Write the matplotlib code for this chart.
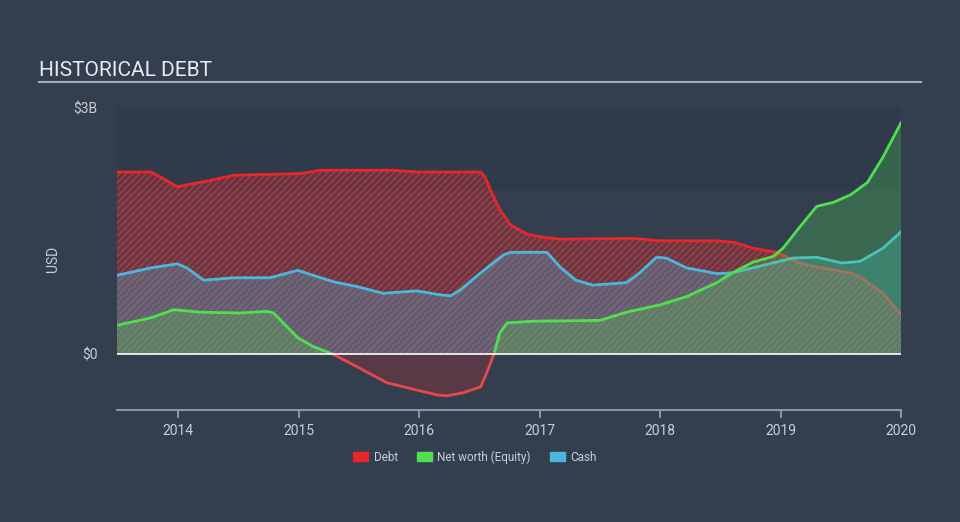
import numpy as np
import matplotlib
matplotlib.use('Agg')
import matplotlib.pyplot as plt
from matplotlib.patches import Patch

plt.rcParams['font.family'] = ['Roboto', 'DejaVu Sans']
plt.rcParams['hatch.linewidth'] = 1.0

# values in $B, time in decimal years
debt_t = [2013.49, 2013.77, 2013.85, 2013.99, 2014.24, 2014.46, 2015.01, 2015.18, 2015.78, 2015.98,
          2016.51, 2016.55, 2016.59, 2016.67, 2016.76, 2016.90, 2017.0, 2017.17, 2017.78,
          2018.0, 2018.47, 2018.62, 2018.77, 2018.97, 2019.16, 2019.30, 2019.58, 2019.66,
          2019.85, 2020.0]
debt_v = [2.22, 2.22, 2.16, 2.04, 2.11, 2.18, 2.20, 2.24, 2.24, 2.22,
          2.22, 2.15, 2.00, 1.76, 1.57, 1.46, 1.43, 1.40, 1.41,
          1.38, 1.38, 1.36, 1.29, 1.24, 1.11, 1.06, 0.99, 0.94,
          0.74, 0.48]

cash_t = [2013.49, 2013.77, 2013.99, 2014.07, 2014.21, 2014.46, 2014.76, 2014.99, 2015.29,
          2015.49, 2015.70, 2015.98, 2016.18, 2016.26, 2016.34, 2016.51, 2016.70, 2016.76,
          2017.06, 2017.17, 2017.30, 2017.44, 2017.72, 2017.83, 2017.97, 2018.05, 2018.22,
          2018.47, 2018.60, 2018.88, 2019.10, 2019.30, 2019.51, 2019.66, 2019.85, 2020.0]
cash_v = [0.96, 1.05, 1.10, 1.05, 0.90, 0.93, 0.93, 1.02, 0.88,
          0.82, 0.74, 0.77, 0.72, 0.71, 0.78, 0.99, 1.21, 1.24,
          1.24, 1.06, 0.90, 0.84, 0.87, 0.99, 1.18, 1.17, 1.05,
          0.98, 0.99, 1.09, 1.17, 1.18, 1.11, 1.13, 1.29, 1.49]

eq_t = [2013.49, 2013.77, 2013.96, 2014.18, 2014.51, 2014.74, 2014.79, 2014.99, 2015.12,
        2015.28, 2015.45, 2015.73, 2015.98, 2016.15, 2016.23, 2016.37, 2016.51, 2016.56, 2016.62,
        2016.67, 2016.73, 2016.84, 2016.95, 2017.50, 2017.72, 2018.0, 2018.22, 2018.47,
        2018.60, 2018.77, 2018.94, 2019.02, 2019.16, 2019.30, 2019.44, 2019.58, 2019.72,
        2019.85, 2020.0]
eq_v = [0.35, 0.44, 0.54, 0.51, 0.50, 0.52, 0.50, 0.20, 0.09,
        0.0, -0.13, -0.35, -0.44, -0.50, -0.51, -0.47, -0.40, -0.23, 0.0,
        0.26, 0.38, 0.39, 0.40, 0.41, 0.51, 0.60, 0.70, 0.87,
        0.99, 1.12, 1.19, 1.29, 1.55, 1.80, 1.85, 1.94, 2.09,
        2.40, 2.82]

years = [2014, 2015, 2016, 2017, 2018, 2019, 2020]

bg = '#333f4f'
red = '#e8262b'
green = '#4fe04f'
blue = '#4ab8dc'
txt = '#c9ced4'

fig = plt.figure(figsize=(9.6, 5.22), dpi=100, facecolor=bg)
ax = fig.add_axes([117 / 960, 1 - 410 / 522, 784 / 960, 302 / 522])
ax.set_facecolor(bg)
ax.set_xlim(2013.49, 2020.0)
ax.set_ylim(-0.683, 3.0)
ax.axhspan(2.0, 3.0, color='#2f3b4b', zorder=0, lw=0)

dt, dv = np.array(debt_t), np.array(debt_v)
ct, cv = np.array(cash_t), np.array(cash_v)
et, ev = np.array(eq_t), np.array(eq_v)

# debt: hatched
ax.fill_between(dt, 0, dv, facecolor=(0.91, 0.15, 0.17, 0.28), lw=0, zorder=1)
ax.fill_between(dt, 0, dv, facecolor='none', edgecolor=(0.91, 0.25, 0.27, 0.55),
                hatch='/////', lw=0, zorder=1)
ax.plot(dt, dv, color=red, lw=2, zorder=2)

# cash
ax.fill_between(ct, 0, cv, facecolor=blue, alpha=0.3, lw=0, zorder=3)
ax.plot(ct, cv, color=blue, lw=2, zorder=4)

# equity (negative part in red)
pos = np.where(ev >= 0, ev, np.nan)
neg = np.where(ev <= 0, ev, np.nan)
ax.fill_between(et, 0, ev, where=ev >= 0, facecolor=green, alpha=0.25, lw=0, zorder=5)
ax.fill_between(et, 0, ev, where=ev <= 0, facecolor=red, alpha=0.22, lw=0, zorder=5)
ax.plot(et, pos, color=green, lw=2, zorder=6)
ax.plot(et, neg, color='#e8474c', lw=2, zorder=6)

ax.axhline(0, color='white', lw=1.2, zorder=7)

for s in ['top', 'right', 'left']:
    ax.spines[s].set_visible(False)
ax.spines['bottom'].set_color('#8a94a0')
ax.spines['bottom'].set_linewidth(1.5)
ax.set_xticks(years)
ax.set_xticklabels([str(y) for y in years])
ax.tick_params(axis='x', colors='#8a94a0', length=6, width=1.5, labelcolor=txt,
               labelsize=10, pad=4)
ax.set_yticks([0, 3])
ax.set_yticklabels(['$0', '$3B'])
ax.tick_params(axis='y', length=0, labelcolor=txt, labelsize=10, pad=14)
ax.set_ylabel('USD', color=txt, fontsize=10, labelpad=10)

fig.text(39 / 960, 1 - 70 / 522, 'HISTORICAL DEBT', color='#e8eaec', fontsize=15,
         va='center', ha='left')
fig.add_artist(plt.Line2D([39 / 960, 921 / 960], [1 - 82 / 522, 1 - 82 / 522],
                          color='#a3aab2', lw=1.5))

handles = [Patch(color=red, label='Debt'), Patch(color=green, label='Net worth (Equity)'),
           Patch(color=blue, label='Cash')]
fig.legend(handles=handles, loc='center', bbox_to_anchor=(475 / 960, 1 - 457 / 522),
           ncol=3, frameon=False, labelcolor=txt, fontsize=8.5, handlelength=1.3,
           handleheight=0.85, columnspacing=1.6, handletextpad=0.45)

fig.savefig('out.png', dpi=100, facecolor=bg)
